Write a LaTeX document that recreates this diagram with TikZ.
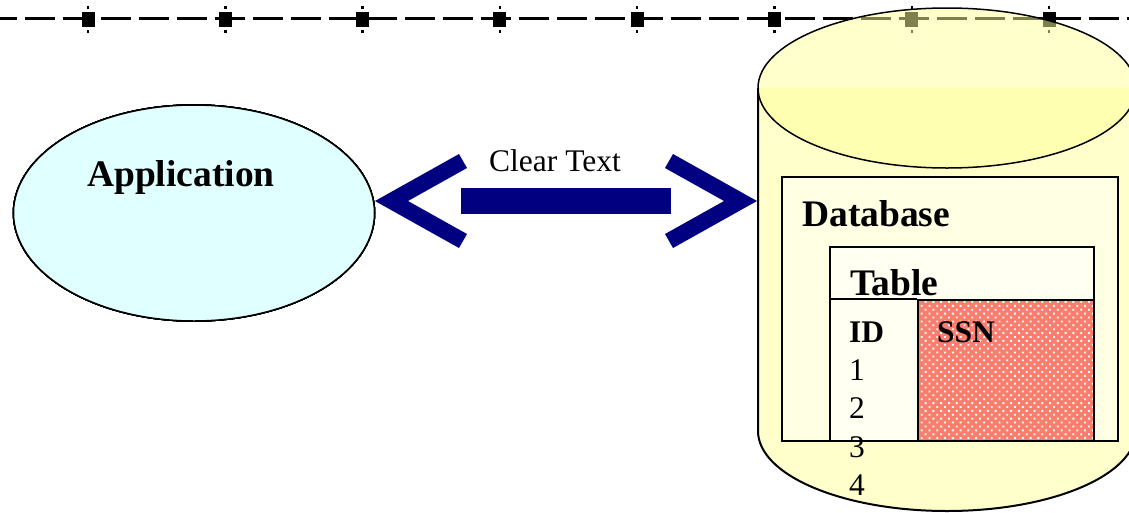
\documentclass[tikz,border=0pt]{standalone}
\usepackage{fontspec}
\setmainfont{Liberation Serif}
\usepackage{xcolor}
\usetikzlibrary{shapes,patterns.meta}
\definecolor{appcyan}{HTML}{E0FFFF}
\definecolor{cylyellow}{HTML}{FFFF99}
\definecolor{dbyellow}{HTML}{FFFFE3}
\definecolor{tblyellow}{HTML}{FFFFF2}
\definecolor{ssnred}{HTML}{FA7E6E}
\definecolor{arrownavy}{HTML}{000080}
\tikzstyle{bigbold}=[font=\fontsize{37.5}{40}\selectfont\bfseries, inner sep=0pt, anchor=base west]
\tikzstyle{smallbold}=[font=\fontsize{31.5}{34}\selectfont\bfseries, inner sep=0pt, anchor=base west]
\tikzstyle{plaintext}=[font=\fontsize{31.5}{34}\selectfont, inner sep=0pt, anchor=base west]
\tikzstyle{cylshading}=[fill=cylyellow, fill opacity=0.5]
\tikzstyle{cell}=[draw, line width=2pt, inner sep=0pt]
\tikzstyle{ssnshading}=[preaction={fill=ssnred}, pattern={Dots[distance=5.5pt,radius=1.3pt,angle=45]}, pattern color=white]
\newcommand{\handle}[1]{
	\fill[black] (#1-6.5,12) rectangle (#1+6.5,26.5);
	\fill[black] (#1-1.2,6) rectangle (#1+1.2,9);
	\fill[black] (#1-1.2,30) rectangle (#1+1.2,33);
}

\begin{document}
\begin{tikzpicture}[x=1pt,y=-1pt]
	\path[use as bounding box] (0,0) rectangle (1129,512);
	\clip (0,0) rectangle (1129,512);
	% ruler along the top
	\draw[line width=3pt, dash pattern=on 30pt off 8pt, dash phase=13pt] (0,18.5) -- (1129,18.5);
	\foreach \i in {0,...,7}
		\handle{88+137.3*\i}
	% application
	\node[ellipse, draw, line width=1.5pt, fill=appcyan, minimum width=361pt, minimum height=216pt] (app) at (194,213) {};
	\node[bigbold] (applabel) at (87,186) {Application};
	% database cylinder
	\fill[cylshading] (758,88) -- (758,431) arc[start angle=180, end angle=0, x radius=189, y radius=80] -- (1136,88) -- cycle;
	\draw[line width=2pt] (758,88) -- (758,431) arc[start angle=180, end angle=0, x radius=189, y radius=80] -- (1136,88);
	\fill[cylshading] (947,88) ellipse[x radius=189, y radius=80];
	\draw[line width=1.5pt] (947,88) ellipse[x radius=189, y radius=80];
	\node[cell, fill=dbyellow, minimum width=336pt, minimum height=264pt] (db) at (950,309) {};
	\node[bigbold] (dblabel) at (802,226) {Database};
	\node[cell, fill=tblyellow, minimum width=264pt, minimum height=194pt] (tbl) at (962,344) {};
	\node[cell, ssnshading, minimum width=176pt, minimum height=141pt] (ssn) at (1006,370.5) {};
	\draw[line width=2pt] (tbl.west |- ssn.north) -- (ssn.north west);
	\node[bigbold] (tbllabel) at (850,295) {Table};
	\node[smallbold] (idlabel) at (849,342) {ID};
	\node[smallbold] (ssnlabel) at (937,342) {SSN};
	\foreach \n in {1,...,4}
		\node[plaintext] (row\n) at (849,380+38.5*\n-38.5) {\n};
	% clear text link
	\fill[arrownavy] (375,201) -- (459,154) -- (467,168) -- (408,201) -- (467,234) -- (459,248) -- cycle;
	\fill[arrownavy] (757,201) -- (673,154) -- (665,168) -- (724,201) -- (665,234) -- (673,248) -- cycle;
	\fill[arrownavy] (461,188) rectangle (671,214);
	\node[plaintext] (linklabel) at (489,171) {Clear Text};
\end{tikzpicture}
\end{document}
